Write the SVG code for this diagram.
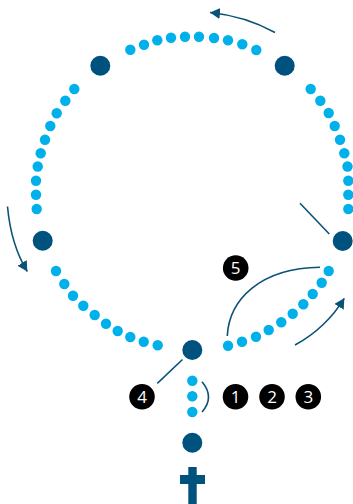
<svg xmlns="http://www.w3.org/2000/svg" width="353" height="504" viewBox="0 0 353 504">
<defs>
<marker id="ah" markerUnits="userSpaceOnUse" markerWidth="11" markerHeight="12" refX="10" refY="5.5" orient="auto" viewBox="0 0 11 12">
<path d="M0,0 L10,5.5 L0,11 z" fill="#0b5279"/>
</marker>
<style>
.b{fill:#00b0ea}
.B{fill:#00527e}
.n circle{fill:#000}
.n text{fill:#fff;font-family:"Open Sans","DejaVu Sans",sans-serif;font-size:17px;text-anchor:middle}
.c{fill:none;stroke:#0b5279;stroke-width:1.6}
</style>
</defs>
<rect width="353" height="504" fill="#fff"/>
<g id="connectors">
<path class="c" d="M275,32.5 Q245,16 210,12.5" marker-end="url(#ah)"/>
<path class="c" d="M7.5,206.5 Q11,245 27.3,271.5" marker-end="url(#ah)"/>
<path class="c" d="M295,345 Q326,328 344.3,298.3" marker-end="url(#ah)"/>
<path class="c" d="M227.3,336 C229,300 260,268 320,267.3"/>
<path class="c" d="M300,203.3 L329.3,234"/>
<path class="c" d="M182.5,359.5 L157.3,383.3"/>
<path class="c" d="M202,381.7 Q215,397 202,412"/>
</g>
<g id="beads-top">
<circle class="b" cx="130.3" cy="49.7" r="5.2"/>
<circle class="b" cx="144" cy="44.7" r="5.2"/>
<circle class="b" cx="157.3" cy="40.3" r="5.2"/>
<circle class="b" cx="171" cy="37.7" r="5.2"/>
<circle class="b" cx="185" cy="36.7" r="5.2"/>
<circle class="b" cx="199" cy="36.7" r="5.2"/>
<circle class="b" cx="214" cy="38" r="5.2"/>
<circle class="b" cx="228" cy="40.3" r="5.2"/>
<circle class="b" cx="242.3" cy="44.3" r="5.2"/>
<circle class="b" cx="256.3" cy="50" r="5.2"/>
</g>
<g id="beads-left">
<circle class="b" cx="74.3" cy="89" r="5.2"/>
<circle class="b" cx="65.3" cy="100.7" r="5.2"/>
<circle class="b" cx="56.7" cy="113.3" r="5.2"/>
<circle class="b" cx="50.3" cy="126" r="5.2"/>
<circle class="b" cx="45" cy="139.7" r="5.2"/>
<circle class="b" cx="40.7" cy="153.3" r="5.2"/>
<circle class="b" cx="37.7" cy="166.5" r="5.2"/>
<circle class="b" cx="36" cy="180.7" r="5.2"/>
<circle class="b" cx="36" cy="194.7" r="5.2"/>
<circle class="b" cx="36.7" cy="209" r="5.2"/>
</g>
<g id="beads-lower-left">
<circle class="b" cx="56" cy="271" r="5.2"/>
<circle class="b" cx="64.3" cy="284" r="5.2"/>
<circle class="b" cx="73" cy="295.7" r="5.2"/>
<circle class="b" cx="83.3" cy="305.7" r="5.2"/>
<circle class="b" cx="94.7" cy="315" r="5.2"/>
<circle class="b" cx="106" cy="323.7" r="5.2"/>
<circle class="b" cx="117.7" cy="331" r="5.2"/>
<circle class="b" cx="130.3" cy="337" r="5.2"/>
<circle class="b" cx="143.7" cy="341.7" r="5.2"/>
<circle class="b" cx="157.7" cy="345.3" r="5.2"/>
</g>
<g id="beads-right">
<circle class="b" cx="310.7" cy="89" r="5.2"/>
<circle class="b" cx="320.3" cy="100.7" r="5.2"/>
<circle class="b" cx="328.7" cy="113" r="5.2"/>
<circle class="b" cx="334.7" cy="126" r="5.2"/>
<circle class="b" cx="340" cy="139.7" r="5.2"/>
<circle class="b" cx="344.3" cy="153.3" r="5.2"/>
<circle class="b" cx="347.5" cy="166.5" r="5.2"/>
<circle class="b" cx="348.3" cy="180.7" r="5.2"/>
<circle class="b" cx="348.3" cy="194.7" r="5.2"/>
<circle class="b" cx="348.3" cy="209" r="5.2"/>
</g>
<g id="beads-lower-right">
<circle class="b" cx="328.7" cy="271" r="5.2"/>
<circle class="b" cx="321.7" cy="282.7" r="5.2"/>
<circle class="b" cx="312.7" cy="294" r="5.2"/>
<circle class="b" cx="303.3" cy="304.3" r="5.2"/>
<circle class="b" cx="292.7" cy="313.7" r="5.2"/>
<circle class="b" cx="281.3" cy="322.3" r="5.2"/>
<circle class="b" cx="268.7" cy="330" r="5.2"/>
<circle class="b" cx="256" cy="336.7" r="5.2"/>
<circle class="b" cx="242" cy="341.7" r="5.2"/>
<circle class="b" cx="228" cy="345.7" r="5.2"/>
</g>
<g id="beads-pendant">
<circle class="b" cx="192.3" cy="380.7" r="5.2"/>
<circle class="b" cx="192.3" cy="396.3" r="5.2"/>
<circle class="b" cx="192.3" cy="412" r="5.2"/>
</g>
<g id="big-beads">
<circle class="B" cx="100.3" cy="65.7" r="10"/>
<circle class="B" cx="284.7" cy="65.7" r="10"/>
<circle class="B" cx="42.7" cy="240.7" r="10"/>
<circle class="B" cx="342.7" cy="241" r="10"/>
<circle class="B" cx="192.3" cy="350" r="10"/>
<circle class="B" cx="192.3" cy="442.7" r="10"/>
</g>
<g id="cross" class="B">
<rect x="188.3" y="467" width="8.4" height="37"/>
<rect x="180" y="475" width="25" height="9"/>
</g>
<g id="label-5" class="n"><circle cx="235.7" cy="268" r="12.8"/><text x="235.7" y="274">5</text></g>
<g id="label-4" class="n"><circle cx="142" cy="396.7" r="12.8"/><text x="142" y="402.7">4</text></g>
<g id="label-1" class="n"><circle cx="235.5" cy="396.7" r="12.8"/><text x="235.5" y="402.7">1</text></g>
<g id="label-2" class="n"><circle cx="272" cy="396.7" r="12.8"/><text x="272" y="402.7">2</text></g>
<g id="label-3" class="n"><circle cx="308.3" cy="396.7" r="12.8"/><text x="308.3" y="402.7">3</text></g>
</svg>
